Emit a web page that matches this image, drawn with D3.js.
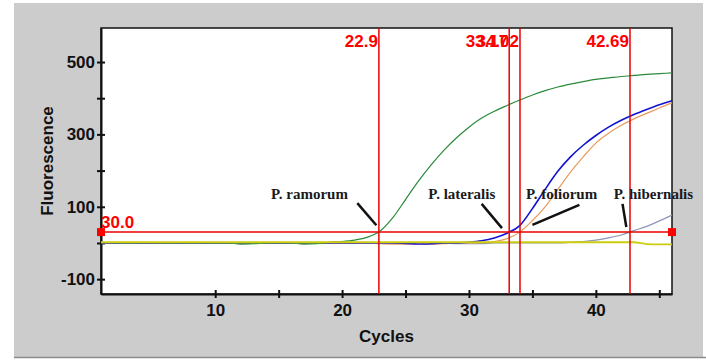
<!DOCTYPE html>
<html>
<head>
<meta charset="utf-8">
<script src="https://cdn.jsdelivr.net/npm/d3@7"></script>
<style>
    body { margin: 0; background: #fff; }
    svg { display: block; }
    .axis text { font-family: "Liberation Sans", Arial, sans-serif; font-weight: bold; font-size: 17px; fill: #111; }
    .axis line, .axis path { stroke: #111; stroke-width: 2; }
</style>
</head>
<body>
<svg width="706" height="360"></svg>
<script>
// cycle numbers (x)
const cycles = [1, 2, 3, 4, 5, 6, 7, 8, 9, 10, 11, 12, 13, 14, 15, 16, 17, 18, 19, 20, 21, 22, 23,
    24, 25, 26, 27, 28, 29, 30, 31, 32, 33, 34, 35, 36, 37, 38, 39, 40, 41, 42, 43, 44, 45, 46];

// fluorescence per cycle
const ramorum = [1, 1, 0, 1, 1, 0, 1, 0, 1, 0, 0, -3, -2, 0, 1, 0, -3, -2, 2, 4, 8, 16, 33,
    70, 120, 170, 215, 255, 290, 320, 345, 364, 380, 395, 409, 421, 431, 439, 446, 452, 456, 460, 463, 466, 468, 470];
const lateralis = [0, 0, 0, 0, 0, 0, 0, 0, 0, 0, 0, 0, 0, 0, 0, 0, 0, 0, 0, 0, 0, 0, 0,
    0, -1, -3, -2, 0, 0, 2, 6, 14, 27, 48, 95, 148, 198, 238, 270, 297, 320, 339, 355, 369, 382, 393];
const foliorum = [0, 0, 0, 0, 0, 0, 0, 0, 0, 0, 0, 0, 0, 0, 0, 0, 0, 0, 0, 0, 0, 0, -2,
    -3, -3, -2, -3, -2, 0, 0, 1, 4, 12, 30, 62, 100, 148, 196, 238, 276, 303, 325, 343, 358, 373, 387];
const hibernalis = [0, 0, 0, 0, 0, 0, 0, 0, 0, 0, 0, 0, 0, 0, 0, 0, 0, 0, 0, 0, 0, 0, 0,
    0, 0, 0, 0, 0, -2, -2, -2, 0, 0, 0, 0, 0, 0, 2, 4, 8, 14, 22, 34, 46, 61, 77];
const negative = [2, 2, 2, 2, 2, 2, 2, 2, 2, 2, 2, 2, 2, 2, 2, 2, 2, 2, 2, 2, 2, 2, 2,
    2, 2, 2, 2, 2, 2, 2, 2, 2, 2, 2, 2, 2, 2, 2, 2, 2, 2, 2, 2, -3, -4, -4];

// threshold and Ct values
const threshold = 30;
const thresholdLabel = '30.0';
const ctValues = [22.9, 33.17, 34.02, 42.69];
const ctLabels = ['22.9', '33.17', '34.02', '42.69'];

// tick values
const xTicks = [10, 15, 20, 25, 30, 35, 40, 45];
const xTickLabels = [10, 20, 30, 40];
const yTicks = [-100, 0, 100, 200, 300, 400, 500];
const yTickLabels = [-100, 100, 300, 500];

// annotations: label text, label anchor (cycle, fluorescence), pointer from / to
const noteNames = ['P. ramorum', 'P. lateralis', 'P. foliorum', 'P. hibernalis'];
const noteAt = [[14.4, 122], [26.8, 122], [34.5, 122], [41.4, 122]];
const noteFrom = [[21.2, 110], [31.0, 108], [38.7, 105], [42.1, 108]];
const noteTo = [[22.7, 49], [32.6, 41], [35.0, 50], [42.4, 44]];

const drawChart = () => {

    var svg = d3.select('svg');
    var box = { left: 101, right: 672, top: 28, bottom: 294 };

    // page background
    svg.append('rect')
        .attr('x', 14).attr('y', 3)
        .attr('width', 689).attr('height', 354)
        .attr('fill', '#cccccc');
    svg.append('line')
        .attr('x1', 14).attr('x2', 706)
        .attr('y1', 357.5).attr('y2', 357.5)
        .attr('stroke', '#8a8a8a').attr('stroke-width', 1.5);

    // scales
    var x = d3.scaleLinear()
        .domain([1, 46])
        .range([box.left, box.right]);

    var y = d3.scaleLinear()
        .domain([-141, 594])
        .range([box.bottom, box.top]);

    // plot area
    svg.append('rect')
        .attr('x', box.left).attr('y', box.top)
        .attr('width', box.right - box.left).attr('height', box.bottom - box.top)
        .attr('fill', '#fff')
        .attr('stroke', '#111')
        .attr('stroke-width', 1.5);

    // axes
    var yAxis = d3.axisLeft(y)
        .tickValues(yTicks)
        .tickSize(4)
        .tickSizeOuter(0)
        .tickPadding(2)
        .tickFormat(d => yTickLabels.includes(d) ? d : '');

    var xAxis = d3.axisBottom(x)
        .tickValues(xTicks)
        .tickSize(4)
        .tickSizeOuter(0)
        .tickPadding(6)
        .tickFormat(d => xTickLabels.includes(d) ? d : '');

    var gy = svg.append('g')
        .attr('class', 'axis')
        .attr('transform', 'translate(' + [box.left, 0] + ')')
        .call(yAxis);
    gy.selectAll('.tick line').attr('x1', 4); // ticks cross the axis line

    var gx = svg.append('g')
        .attr('class', 'axis')
        .attr('transform', 'translate(' + [0, box.bottom] + ')')
        .call(xAxis);
    gx.selectAll('.tick line').attr('y1', -4);

    // axis titles
    svg.append('text')
        .attr('x', (box.left + box.right) / 2)
        .attr('y', 342)
        .attr('text-anchor', 'middle')
        .style('font', 'bold 17px "Liberation Sans", Arial, sans-serif')
        .attr('fill', '#111')
        .text('Cycles');

    svg.append('text')
        .attr('transform', 'translate(53,' + (box.top + box.bottom) / 2 + ') rotate(-90)')
        .attr('text-anchor', 'middle')
        .style('font', 'bold 17px "Liberation Sans", Arial, sans-serif')
        .attr('fill', '#111')
        .text('Fluorescence');

    // curves
    var line = d3.line()
        .x((d, i) => x(cycles[i]))
        .y(d => y(d))
        .curve(d3.curveMonotoneX);

    var series = [
        { values: hibernalis, color: '#8c96b8', w: 1.2 },
        { values: foliorum, color: '#e89a5a', w: 1.2 },
        { values: lateralis, color: '#1212d0', w: 1.6 },
        { values: ramorum, color: '#2a8a3a', w: 1.2 },
        { values: negative, color: '#cccc10', w: 1.8 }
    ];

    svg.append('g')
        .selectAll('path')
        .data(series)
        .enter().append('path')
        .attr('d', d => line(d.values))
        .attr('fill', 'none')
        .attr('stroke', d => d.color)
        .attr('stroke-width', d => d.w);

    // threshold
    svg.append('line')
        .attr('x1', x(1)).attr('x2', x(46))
        .attr('y1', y(threshold)).attr('y2', y(threshold))
        .attr('stroke', '#e80000').attr('stroke-width', 1.5);

    svg.selectAll('rect.handle')
        .data([1, 46])
        .enter().append('rect')
        .attr('class', 'handle')
        .attr('x', d => x(d) - 4)
        .attr('y', y(threshold) - 4)
        .attr('width', 8).attr('height', 8)
        .attr('fill', '#ff0000');

    svg.append('text')
        .attr('x', x(1))
        .attr('y', y(threshold) - 4)
        .style('font', 'bold 17px "Liberation Sans", Arial, sans-serif')
        .attr('fill', '#ff0000')
        .text(thresholdLabel);

    // Ct lines
    svg.append('g')
        .selectAll('line')
        .data(ctValues)
        .enter().append('line')
        .attr('x1', d => x(d)).attr('x2', d => x(d))
        .attr('y1', box.top).attr('y2', box.bottom)
        .attr('stroke', '#e80000').attr('stroke-width', 1.5);

    // the two middle labels sit on top of each other, as in the original
    svg.append('g')
        .selectAll('text')
        .data(ctValues)
        .enter().append('text')
        .attr('x', d => x(d) - 1)
        .attr('y', 47)
        .attr('text-anchor', 'end')
        .style('font', 'bold 17px "Liberation Sans", Arial, sans-serif')
        .attr('fill', '#ff0000')
        .text((d, i) => ctLabels[i]);

    // species notes
    svg.append('g')
        .selectAll('text')
        .data(noteNames)
        .enter().append('text')
        .attr('x', (d, i) => x(noteAt[i][0]))
        .attr('y', (d, i) => y(noteAt[i][1]))
        .style('font', 'bold 15px "Liberation Serif", "Times New Roman", serif')
        .attr('fill', '#1a1a1a')
        .text(d => d);

    svg.append('g')
        .selectAll('line')
        .data(noteNames)
        .enter().append('line')
        .attr('x1', (d, i) => x(noteFrom[i][0]))
        .attr('y1', (d, i) => y(noteFrom[i][1]))
        .attr('x2', (d, i) => x(noteTo[i][0]))
        .attr('y2', (d, i) => y(noteTo[i][1]))
        .attr('stroke', '#111')
        .attr('stroke-width', 2.5);
};

drawChart();
</script>
</body>
</html>
